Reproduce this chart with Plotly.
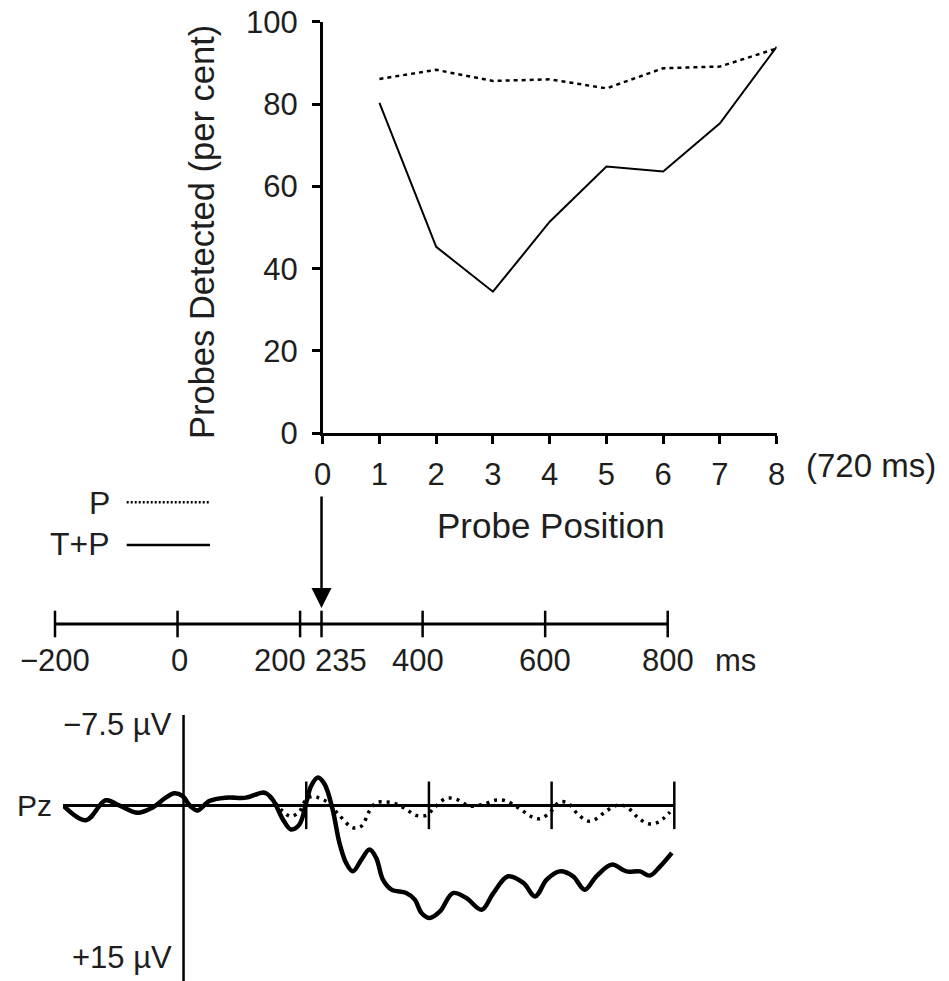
import plotly.graph_objects as go

W, H = 949, 981
FONT = "Liberation Sans, Arial, Helvetica, sans-serif"
TXT = "#1e1e1e"

# ---------------- data: probe detection (top panel) ----------------
probe_pos = [1, 2, 3, 4, 5, 6, 7, 8]
p_only = [86.1, 88.3, 85.6, 86.0, 83.8, 88.7, 89.1, 93.5]        # P (dotted)
t_plus_p = [80.3, 45.3, 34.4, 51.4, 64.8, 63.6, 75.3, 93.9]      # T+P (solid)
x_ticks = [0, 1, 2, 3, 4, 5, 6, 7, 8]
y_ticks = [0, 20, 40, 60, 80, 100]

# ---------------- data: time line ----------------
timeline_ticks = [-200, 0, 200, 235, 400, 600, 800]
timeline_labels = ["\u2212200", "0", "200", "235", "400", "600", "800"]
timeline_label_shift = [0, 2, -20, 19, -5, 0, 0]   # px nudges to avoid overlap

# ---------------- data: ERP at Pz (microvolts, positive plotted down) ----------------
erp_tp_t = [-195, -159, -127, -105, -75, -51, -29, -15, -2, 12, 23, 42, 69, 102, 132, 145,
            162, 175, 189, 200, 208, 219, 230, 243, 254, 265, 276, 290, 303, 314, 325, 339,
            363, 377, 388, 401, 418, 439, 461, 486, 505, 529, 554, 573, 592, 613, 635, 654,
            673, 698, 722, 744, 760, 777, 796]
erp_tp = [0.06, 1.23, -0.42, 0.0, 0.61, 0.19, -0.64, -1.0, -0.78, 0.11, 0.42, -0.36, -0.64,
          -0.64, -1.06, -0.5, 1.17, 2.0, 1.58, -0.22, -1.61, -2.31, -1.75, 0.33, 3.08, 4.78,
          5.48, 4.5, 3.67, 4.36, 6.17, 7.0, 7.28, 7.83, 8.94, 9.36, 8.81, 7.28, 7.69, 8.67,
          7.28, 5.89, 6.44, 7.56, 6.17, 5.48, 5.89, 7.0, 5.89, 4.92, 5.48, 5.48, 5.83, 5.06, 3.94]

erp_p_t = [-195, -159, -127, -105, -75, -51, -29, -15, -2, 12, 23, 42, 69, 102, 132, 145,
           162, 175, 189, 200, 211, 222, 235, 254, 276, 290, 303, 314, 330, 344, 363, 379,
           396, 409, 428, 445, 466, 488, 510, 526, 548, 567, 581, 597, 613, 627, 643, 660,
           673, 687, 706, 722, 741, 758, 774, 793]
erp_p = [0.06, 1.23, -0.42, 0.0, 0.61, 0.19, -0.64, -1.0, -0.78, 0.11, 0.42, -0.36, -0.64,
         -0.64, -1.0, -0.45, 0.5, 0.92, 0.5, -0.5, -0.75, -0.58, -0.25, 0.83, 1.86, 1.72,
         0.47, -0.22, -0.28, -0.17, 0.33, 0.83, 0.83, 0.19, -0.58, -0.5, 0.06, -0.08, -0.44,
         -0.36, 0.28, 0.94, 1.11, 0.61, -0.28, -0.17, 0.75, 1.31, 1.11, 0.56, 0.0, 0.11,
         1.03, 1.53, 1.39, 0.56]
erp_ticks = [-200, 200, 400, 600, 800]
erp_top_label = "\u22127.5 \u00b5V"
erp_bottom_label = "+15 \u00b5V"

legend_names = ["P", "T+P"]


def px_x(x):
    return x / W


def px_y(y):
    return 1 - y / H


fig = go.Figure()

# top panel
fig.add_trace(go.Scatter(x=probe_pos, y=p_only, mode="lines", name=legend_names[0],
                         line=dict(color="black", width=2.5, dash="4px,4px"),
                         xaxis="x", yaxis="y", showlegend=False))
fig.add_trace(go.Scatter(x=probe_pos, y=t_plus_p, mode="lines", name=legend_names[1],
                         line=dict(color="black", width=2),
                         xaxis="x", yaxis="y", showlegend=False))

# timeline
fig.add_trace(go.Scatter(x=[timeline_ticks[0], timeline_ticks[-1]], y=[0, 0], mode="lines",
                         line=dict(color="black", width=3), xaxis="x3", yaxis="y3",
                         showlegend=False, hoverinfo="skip"))
fig.add_trace(go.Scatter(x=timeline_ticks, y=[0] * len(timeline_ticks), mode="markers",
                         marker=dict(symbol="line-ns", size=19, color="black",
                                     line=dict(color="black", width=2.5)),
                         xaxis="x3", yaxis="y3", showlegend=False, cliponaxis=False,
                         hoverinfo="skip"))

# ERP
fig.add_trace(go.Scatter(x=erp_ticks, y=[0] * len(erp_ticks), mode="markers",
                         marker=dict(symbol="line-ns", size=34, color="black",
                                     line=dict(color="black", width=2.5)),
                         xaxis="x2", yaxis="y2", showlegend=False, cliponaxis=False,
                         hoverinfo="skip"))
fig.add_trace(go.Scatter(x=erp_p_t, y=erp_p, mode="lines", name=legend_names[0],
                         line=dict(color="black", width=3.5, dash="3px,5px", shape="spline",
                                   smoothing=1),
                         xaxis="x2", yaxis="y2", showlegend=False))
fig.add_trace(go.Scatter(x=erp_tp_t, y=erp_tp, mode="lines", name=legend_names[1],
                         line=dict(color="black", width=4.5, shape="spline", smoothing=1),
                         xaxis="x2", yaxis="y2", showlegend=False))

tickfont = dict(family=FONT, size=31, color=TXT)

fig.update_layout(
    width=W, height=H, margin=dict(l=0, r=0, t=0, b=0, autoexpand=False),
    paper_bgcolor="white", plot_bgcolor="rgba(0,0,0,0)",
    font=dict(family=FONT, color=TXT),
    xaxis=dict(domain=[px_x(322.7), px_x(776.7)], range=[0, 8], anchor="y",
               showline=True, linecolor="black", linewidth=2.5, ticks="outside",
               ticklen=8, tickwidth=2.5, tickcolor="black", tickvals=x_ticks,
               tickfont=tickfont, showgrid=False, zeroline=False, ticklabelstandoff=4,
               automargin=False),
    yaxis=dict(domain=[px_y(433.3), px_y(21.7)], range=[0, 100], anchor="x",
               showline=True, linecolor="black", linewidth=2.5, ticks="outside",
               ticklen=8, tickwidth=2.5, tickcolor="black", tickvals=y_ticks,
               tickfont=tickfont, showgrid=False, zeroline=False, ticklabelstandoff=8,
               automargin=False),
    xaxis2=dict(domain=[px_x(62.7), px_x(674.3)], range=[-197, 800], anchor="y2",
                visible=False),
    yaxis2=dict(domain=[0, px_y(715)], range=[14.58, -7.5], anchor="x2",
                showline=False, showticklabels=False, ticks="", showgrid=False,
                zeroline=True, zerolinecolor="black", zerolinewidth=2.5),
    xaxis3=dict(domain=[px_x(55), px_x(667.7)], range=[-200, 800], anchor="y3",
                visible=False),
    yaxis3=dict(domain=[px_y(640), px_y(608)], range=[-1, 1], anchor="x3", visible=False),
)

shapes = [
    # ERP vertical axis at 0 ms
    dict(type="line", xref="x2", yref="y2 domain", x0=0, x1=0, y0=0, y1=1,
         line=dict(color="black", width=2.5)),
    # legend samples
    dict(type="line", xref="paper", yref="paper", x0=px_x(126.7), x1=px_x(210),
         y0=px_y(502.3), y1=px_y(502.3), line=dict(color="black", width=2.5, dash="2px,2px")),
    dict(type="line", xref="paper", yref="paper", x0=px_x(126.7), x1=px_x(210),
         y0=px_y(545), y1=px_y(545), line=dict(color="black", width=2.5)),
]
fig.update_layout(shapes=shapes)


def label(text, x, y, size=31, xanchor="center", xref="paper", yref="paper", **kw):
    d = dict(text=text, x=x, y=y, xref=xref, yref=yref, xanchor=xanchor, yanchor="middle",
             showarrow=False, font=dict(family=FONT, size=size, color=TXT))
    d.update(kw)
    return d


ann = []
ann.append(label("Probes Detected (per cent)", px_x(202), px_y(232), size=34.5, textangle=-90))
ann.append(label("Probe Position", px_x(551), px_y(525), size=35))
ann.append(label("(720 ms)", px_x(804), px_y(466), size=33, xanchor="left"))
for i, name in enumerate(legend_names):
    ann.append(label(name, px_x(112), px_y([503, 544][i]), size=32, xanchor="right"))
# arrow from probe position 0 down to 235 ms
ann.append(dict(text="", x=timeline_ticks[3], y=px_y(608), xref="x3", yref="paper",
                showarrow=True, ax=0, ay=-113, arrowhead=2, arrowsize=1.6,
                arrowwidth=2.5, arrowcolor="black", standoff=0))
for v, lab, sh in zip(timeline_ticks, timeline_labels, timeline_label_shift):
    ann.append(label(lab, v, px_y(660), xref="x3", xshift=sh))
ann.append(label("ms", px_x(735), px_y(660)))
# ERP labels
ann.append(label(erp_top_label, px_x(174), px_y(724), size=31, xanchor="right"))
ann.append(label(erp_bottom_label, px_x(174), px_y(957), size=31, xanchor="right"))
ann.append(label("Pz", px_x(54), 0, size=30, xanchor="right", yref="y2"))
fig.update_layout(annotations=ann)

fig.write_html("out.html")
